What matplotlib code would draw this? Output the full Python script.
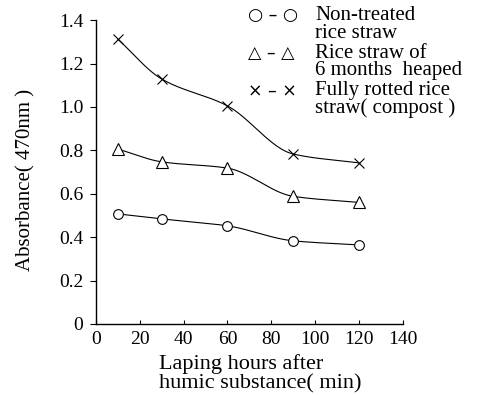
import numpy as np
import matplotlib
matplotlib.use('Agg')
import matplotlib.pyplot as plt

plt.rcParams['font.family'] = ['Liberation Serif', 'DejaVu Serif']

# sampling times (min)
minutes = [10, 30, 60, 90, 120]

# absorbance at 470 nm
non_treated = [0.507, 0.484, 0.452, 0.383, 0.364]
heaped_6m = [0.806, 0.747, 0.718, 0.588, 0.560]
compost = [1.313, 1.129, 1.005, 0.783, 0.742]

yticks = [0, 0.2, 0.4, 0.6, 0.8, 1.0, 1.2, 1.4]
ytick_labels = ['0', '0.2', '0.4', '0.6', '0.8', '1.0', '1.2', '1.4']
xticks = [0, 20, 40, 60, 80, 100, 120, 140]

legend_symbols = ['\u25cb \u2013 \u25cb', '\u25b3 \u2013 \u25b3', '\u00d7 \u2013 \u00d7']
legend_lines = [('Non-treated', 'rice straw'),
                ('Rice straw of', '6 months  heaped'),
                ('Fully rotted rice', 'straw( compost )')]


def smooth(x, y, n=200):
    # monotone cubic (pchip) through the measured points
    x = np.asarray(x, float)
    y = np.asarray(y, float)
    h = np.diff(x)
    d = np.diff(y) / h
    m = np.zeros_like(y)
    for k in range(1, len(x) - 1):
        if d[k - 1] * d[k] > 0:
            w1 = 2 * h[k] + h[k - 1]
            w2 = h[k] + 2 * h[k - 1]
            m[k] = (w1 + w2) / (w1 / d[k - 1] + w2 / d[k])
    m[0] = d[0]
    m[-1] = d[-1]
    xs = np.linspace(x[0], x[-1], n)
    idx = np.clip(np.searchsorted(x, xs) - 1, 0, len(x) - 2)
    t = (xs - x[idx]) / h[idx]
    h00 = 2 * t**3 - 3 * t**2 + 1
    h10 = t**3 - 2 * t**2 + t
    h01 = -2 * t**3 + 3 * t**2
    h11 = t**3 - t**2
    ys = (h00 * y[idx] + h10 * h[idx] * m[idx]
          + h01 * y[idx + 1] + h11 * h[idx] * m[idx + 1])
    return xs, ys


W, H = 479, 395
fig = plt.figure(figsize=(W / 100, H / 100), dpi=100)
ax = fig.add_axes([0.200, 0.180, 0.641, 0.769])

for series, mk, ms in [(non_treated, 'o', 7), (heaped_6m, '^', 8), (compost, 'x', 7)]:
    xs, ys = smooth(minutes, series)
    ax.plot(xs, ys, color='black', lw=0.8)
    ax.plot(minutes, series, linestyle='none', marker=mk, ms=ms,
            mfc='white', mec='black', mew=0.8)

ax.set_xlim(0, 140)
ax.set_ylim(0, 1.4)
ax.spines['top'].set_visible(False)
ax.spines['right'].set_visible(False)
ax.spines['left'].set_linewidth(1.0)
ax.spines['bottom'].set_linewidth(1.0)
ax.set_yticks(yticks)
ax.set_yticklabels(ytick_labels)
ax.set_xticks(xticks)
ax.tick_params(axis='y', direction='out', length=4, width=0.8, labelsize=14, pad=5)
ax.tick_params(axis='x', direction='in', length=3, width=0.8, labelsize=14, pad=5)

ax.set_ylabel('Absorbance( 470nm )', fontsize=15)
ax.yaxis.set_label_coords(-0.198, 0.474)
ax.set_xlabel('Laping hours after\nhumic substance( min)', fontsize=16,
              multialignment='left', linespacing=0.97)
ax.xaxis.set_label_coords(0.534, -0.1)
ax.xaxis.label.set_va('top')

# legend written as text lines (pixel positions from the top)
for i, (s, (l1, l2)) in enumerate(zip(legend_symbols, legend_lines)):
    base = 20 + 37.5 * i
    fig.text(248 / W, 1 - (base - 4.5) / H, s, family=['DejaVu Sans'],
             fontsize=12.5, va='center')
    fig.text(315 / W, 1 - base / H, l1, fontsize=15, va='baseline')
    fig.text(315 / W, 1 - (base + 18) / H, l2, fontsize=15, va='baseline')

fig.savefig('out.png', dpi=100)
